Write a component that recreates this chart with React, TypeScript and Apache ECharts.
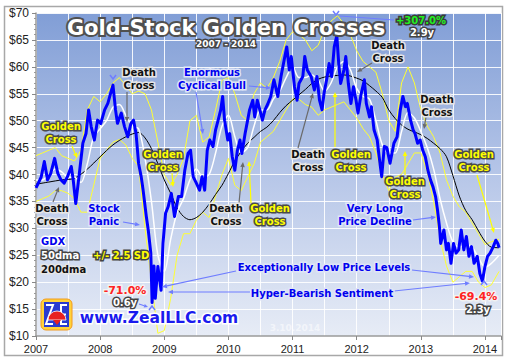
import React, { useEffect, useRef } from "react";
import * as echarts from "echarts";

// ---- GDX daily close ----
const gdx2007: [number, number][] = [
  [2007.0, 37.5], [2007.04, 38.5], [2007.08, 39.5], [2007.13, 42.4], [2007.18, 39.0], [2007.23, 40.2],
  [2007.29, 43.0], [2007.34, 40.2], [2007.39, 39.0], [2007.44, 38.4], [2007.49, 39.6], [2007.55, 41.5],
  [2007.58, 39.0], [2007.62, 34.6], [2007.67, 39.6], [2007.73, 45.8], [2007.78, 47.6], [2007.82, 52.0],
  [2007.86, 48.9], [2007.91, 46.4], [2007.96, 50.1],
];
const gdx2008: [number, number][] = [
  [2008.01, 49.5], [2008.07, 52.0], [2008.12, 53.2], [2008.15, 54.5], [2008.2, 56.6], [2008.24, 52.0],
  [2008.27, 49.5], [2008.33, 51.4], [2008.38, 48.9], [2008.43, 47.0], [2008.48, 49.5], [2008.52, 50.1],
  [2008.56, 47.6], [2008.6, 42.0], [2008.64, 39.6], [2008.67, 37.1], [2008.72, 32.2], [2008.75, 29.7],
  [2008.79, 25.4], [2008.81, 16.2], [2008.84, 23.0], [2008.86, 17.0], [2008.9, 22.9], [2008.95, 18.5],
  [2008.98, 27.2],
];
const gdx2009: [number, number][] = [
  [2009.02, 32.8], [2009.06, 34.0], [2009.11, 36.5], [2009.16, 32.2], [2009.22, 35.9], [2009.27, 35.9],
  [2009.32, 40.8], [2009.37, 43.9], [2009.41, 44.5], [2009.45, 39.6], [2009.5, 38.4], [2009.55, 37.1],
  [2009.59, 39.6], [2009.63, 37.1], [2009.67, 44.5], [2009.71, 46.4], [2009.76, 45.2], [2009.8, 48.3],
  [2009.84, 50.1], [2009.88, 52.0], [2009.91, 54.5], [2009.94, 50.1], [2009.99, 46.4],
];
const gdx2010: [number, number][] = [
  [2010.02, 47.6], [2010.06, 43.3], [2010.1, 40.8], [2010.14, 44.5], [2010.18, 46.4], [2010.21, 43.9],
  [2010.26, 47.6], [2010.3, 50.1], [2010.33, 52.0], [2010.38, 53.8], [2010.41, 50.7], [2010.45, 53.8],
  [2010.49, 52.0], [2010.53, 50.1], [2010.57, 52.0], [2010.61, 53.0], [2010.66, 54.5], [2010.71, 57.6],
  [2010.77, 54.5], [2010.82, 58.2], [2010.87, 61.3], [2010.91, 63.7], [2010.95, 59.4], [2010.98, 61.9],
];
const gdx2011: [number, number][] = [
  [2011.03, 56.3], [2011.07, 53.8], [2011.1, 56.9], [2011.16, 58.2], [2011.19, 61.9], [2011.23, 59.4],
  [2011.29, 58.2], [2011.34, 55.7], [2011.38, 58.2], [2011.42, 53.8], [2011.46, 52.0], [2011.49, 55.0],
  [2011.54, 58.2], [2011.57, 60.6], [2011.61, 58.2], [2011.65, 63.7], [2011.69, 65.8], [2011.72, 60.6],
  [2011.75, 56.9], [2011.8, 59.4], [2011.83, 61.9], [2011.87, 56.9], [2011.91, 53.2], [2011.95, 56.3],
  [2011.99, 53.8],
];
const gdx2012: [number, number][] = [
  [2012.02, 51.4], [2012.07, 55.0], [2012.12, 57.6], [2012.15, 53.2], [2012.2, 50.7], [2012.23, 52.6],
  [2012.27, 48.3], [2012.32, 46.4], [2012.35, 43.3], [2012.39, 39.6], [2012.43, 45.2], [2012.47, 45.0],
  [2012.52, 42.1], [2012.58, 45.8], [2012.63, 47.0], [2012.68, 52.0], [2012.72, 54.5], [2012.76, 52.6],
  [2012.79, 53.2], [2012.84, 50.1], [2012.88, 48.3], [2012.91, 47.6], [2012.95, 45.8], [2012.99, 46.4],
];
const gdx2013: [number, number][] = [
  [2013.03, 44.5], [2013.07, 43.3], [2013.11, 40.8], [2013.15, 39.0], [2013.19, 37.7], [2013.23, 35.9],
  [2013.26, 33.4], [2013.29, 30.3], [2013.31, 27.2], [2013.36, 29.7], [2013.4, 26.0], [2013.43, 27.2],
  [2013.47, 23.5], [2013.51, 27.2], [2013.55, 25.4], [2013.59, 26.0], [2013.63, 29.7], [2013.67, 26.0],
  [2013.71, 28.5], [2013.75, 24.8], [2013.79, 26.6], [2013.83, 23.5], [2013.88, 24.8], [2013.92, 21.6],
  [2013.96, 20.2],
];
const gdx2014: [number, number][] = [
  [2014.0, 22.9], [2014.04, 24.8], [2014.08, 25.4], [2014.13, 26.6], [2014.17, 27.8], [2014.2, 27.2], [2014.22, 26.4],
];

// ---- 50-day moving average ----
const dma50: [number, number][] = [
  [2007.0, 39.0], [2007.1, 39.0], [2007.2, 40.0], [2007.3, 41.0], [2007.4, 40.5], [2007.5, 39.5], [2007.6, 39.5],
  [2007.7, 38.5], [2007.8, 42.0], [2007.9, 47.0], [2008.0, 48.5], [2008.1, 50.0], [2008.2, 52.5], [2008.3, 53.0],
  [2008.4, 51.0], [2008.5, 49.0], [2008.6, 48.5], [2008.7, 43.0], [2008.8, 35.0], [2008.9, 25.0], [2009.0, 22.0],
  [2009.1, 28.0], [2009.2, 33.0], [2009.3, 35.5], [2009.4, 39.0], [2009.5, 41.0], [2009.6, 39.5], [2009.7, 40.0],
  [2009.8, 44.0], [2009.9, 49.0], [2010.0, 51.0], [2010.1, 47.0], [2010.2, 44.0], [2010.3, 45.0], [2010.4, 49.0],
  [2010.5, 52.0], [2010.6, 52.0], [2010.7, 54.0], [2010.8, 55.5], [2010.9, 58.0], [2011.0, 60.0], [2011.1, 58.0],
  [2011.2, 58.0], [2011.3, 58.5], [2011.4, 57.5], [2011.5, 55.5], [2011.6, 57.0], [2011.7, 60.0], [2011.8, 61.0],
  [2011.9, 59.5], [2012.0, 56.0], [2012.1, 54.5], [2012.2, 54.0], [2012.3, 50.0], [2012.4, 45.5], [2012.5, 44.0],
  [2012.6, 44.0], [2012.7, 48.0], [2012.8, 51.5], [2012.9, 50.5], [2013.0, 48.0], [2013.1, 45.0], [2013.2, 41.0],
  [2013.3, 35.5], [2013.4, 31.0], [2013.5, 27.5], [2013.6, 26.5], [2013.7, 27.0], [2013.8, 26.5], [2013.9, 24.5],
  [2014.0, 22.8], [2014.1, 23.5], [2014.22, 25.0],
];

// ---- 200-day moving average ----
const dma200: [number, number][] = [
  [2007.0, 38.2], [2007.2, 38.6], [2007.4, 39.0], [2007.6, 39.3], [2007.8, 41.0], [2008.0, 43.3], [2008.2, 45.5],
  [2008.4, 47.0], [2008.6, 47.8], [2008.7, 46.8], [2008.8, 44.8], [2008.9, 42.0], [2009.0, 39.0], [2009.1, 36.5],
  [2009.2, 33.8], [2009.3, 32.2], [2009.4, 31.6], [2009.5, 32.0], [2009.6, 33.0], [2009.7, 34.5], [2009.8, 36.3],
  [2009.9, 38.0], [2010.0, 40.2], [2010.1, 42.5], [2010.2, 44.3], [2010.3, 45.8], [2010.4, 46.9], [2010.5, 48.0],
  [2010.6, 48.8], [2010.7, 50.0], [2010.8, 51.5], [2010.9, 52.8], [2011.0, 53.8], [2011.1, 54.8], [2011.2, 55.8],
  [2011.3, 56.9], [2011.4, 57.7], [2011.5, 58.1], [2011.6, 58.3], [2011.7, 58.4], [2011.8, 58.5], [2011.9, 58.3],
  [2012.0, 57.9], [2012.1, 57.4], [2012.2, 56.5], [2012.3, 55.5], [2012.4, 54.3], [2012.5, 52.0], [2012.6, 50.4],
  [2012.7, 49.2], [2012.8, 48.4], [2012.9, 47.9], [2013.0, 47.4], [2013.1, 46.7], [2013.2, 45.8], [2013.3, 44.8],
  [2013.4, 43.3], [2013.5, 39.8], [2013.6, 36.0], [2013.7, 33.3], [2013.8, 31.6], [2013.9, 29.5], [2014.0, 27.6],
  [2014.1, 26.5], [2014.22, 26.4],
];

// ---- 50dma +/- 2.5 SD bands ----
const bandUpper: [number, number][] = [
  [2007.0, 43.5], [2007.1, 44.0], [2007.2, 44.5], [2007.3, 45.0], [2007.4, 43.5], [2007.5, 43.0], [2007.6, 42.5],
  [2007.7, 44.5], [2007.8, 52.0], [2007.9, 54.5], [2008.0, 53.5], [2008.1, 55.0], [2008.2, 57.0], [2008.3, 58.0],
  [2008.4, 56.5], [2008.5, 55.0], [2008.6, 55.5], [2008.7, 55.0], [2008.8, 52.0], [2008.9, 46.0], [2009.0, 40.0],
  [2009.1, 38.0], [2009.2, 40.0], [2009.3, 43.0], [2009.4, 50.0], [2009.5, 51.0], [2009.6, 46.0], [2009.7, 47.0],
  [2009.8, 52.0], [2009.9, 57.5], [2010.0, 58.0], [2010.1, 55.0], [2010.2, 51.0], [2010.3, 50.0], [2010.4, 55.0],
  [2010.5, 57.0], [2010.6, 56.0], [2010.7, 58.0], [2010.8, 61.0], [2010.9, 65.0], [2011.0, 66.5], [2011.1, 66.0],
  [2011.2, 65.0], [2011.3, 63.0], [2011.4, 64.0], [2011.5, 67.0], [2011.6, 68.5], [2011.7, 69.5], [2011.8, 68.0],
  [2011.9, 66.0], [2012.0, 63.0], [2012.1, 61.0], [2012.2, 60.0], [2012.3, 59.0], [2012.4, 55.0], [2012.5, 50.0],
  [2012.6, 48.0], [2012.7, 57.0], [2012.8, 60.0], [2012.9, 57.0], [2013.0, 52.0], [2013.1, 49.0], [2013.2, 47.0],
  [2013.3, 44.0], [2013.4, 39.0], [2013.5, 36.0], [2013.6, 34.0], [2013.7, 33.0], [2013.8, 31.0], [2013.9, 29.0],
  [2014.0, 27.0], [2014.1, 27.5], [2014.22, 28.0],
];
const bandLower: [number, number][] = [
  [2007.0, 35.0], [2007.1, 35.5], [2007.2, 36.0], [2007.3, 37.0], [2007.4, 37.0], [2007.5, 36.5], [2007.6, 35.5],
  [2007.7, 33.0], [2007.8, 33.0], [2007.9, 38.0], [2008.0, 43.0], [2008.1, 44.5], [2008.2, 46.0], [2008.3, 46.5],
  [2008.4, 45.5], [2008.5, 43.0], [2008.6, 41.5], [2008.7, 30.0], [2008.8, 20.0], [2008.9, 10.5], [2009.0, 11.0],
  [2009.1, 17.0], [2009.2, 25.0], [2009.3, 29.0], [2009.4, 29.0], [2009.5, 31.5], [2009.6, 33.0], [2009.7, 32.0],
  [2009.8, 36.0], [2009.9, 40.0], [2010.0, 43.0], [2010.1, 38.0], [2010.2, 37.0], [2010.3, 39.5], [2010.4, 42.0],
  [2010.5, 46.0], [2010.6, 47.0], [2010.7, 48.0], [2010.8, 50.0], [2010.9, 52.0], [2011.0, 54.0], [2011.1, 54.0],
  [2011.2, 53.0], [2011.3, 52.5], [2011.4, 51.0], [2011.5, 52.0], [2011.6, 52.5], [2011.7, 53.0], [2011.8, 53.5],
  [2011.9, 52.0], [2012.0, 50.5], [2012.1, 48.5], [2012.2, 47.0], [2012.3, 44.0], [2012.4, 40.0], [2012.5, 37.0],
  [2012.6, 39.5], [2012.7, 40.0], [2012.8, 42.0], [2012.9, 44.0], [2013.0, 44.0], [2013.1, 40.5], [2013.2, 35.0],
  [2013.3, 28.0], [2013.4, 23.0], [2013.5, 20.0], [2013.6, 21.0], [2013.7, 22.0], [2013.8, 22.0], [2013.9, 20.0],
  [2014.0, 19.0], [2014.1, 19.5], [2014.22, 22.0],
];

const yearTicks = [2007, 2008, 2009, 2010, 2011, 2012, 2013, 2014];

const gdx = [...gdx2007, ...gdx2008, ...gdx2009, ...gdx2010, ...gdx2011, ...gdx2012, ...gdx2013, ...gdx2014];

const F = '"DejaVu Sans", Verdana, sans-serif';

function txt(text: string, x: number, y: number, fill: string, stroke: string, size = 10, align = "center", lw = 3) {
  return {
    type: "text",
    x,
    y,
    z: 100,
    style: {
      text,
      fill,
      stroke,
      lineWidth: lw,
      strokeFirst: true,
      font: `bold ${size}px ${F}`,
      align,
      verticalAlign: "middle",
      textAlign: align,
      textVerticalAlign: "middle",
      lineHeight: Math.round(size * 1.25),
    },
  };
}

function arrow(x1: number, y1: number, x2: number, y2: number, color: string, w = 1.2, head = 5) {
  const a = Math.atan2(y2 - y1, x2 - x1);
  const bx = x2 - head * Math.cos(a);
  const by = y2 - head * Math.sin(a);
  const px = Math.sin(a) * head * 0.45;
  const py = -Math.cos(a) * head * 0.45;
  return {
    type: "group",
    z: 90,
    children: [
      { type: "line", z: 90, shape: { x1, y1, x2: bx, y2: by }, style: { stroke: color, lineWidth: w } },
      {
        type: "polygon",
        z: 90,
        shape: { points: [[x2, y2], [bx + px, by + py], [bx - px, by - py]] },
        style: { fill: color },
      },
    ],
  };
}

function chevron(x: number, y: number, up: boolean, color: string) {
  const d = up ? -1 : 1;
  return {
    type: "polyline",
    z: 95,
    shape: { points: [[x - 3, y - 3 * d], [x, y + 1 * d], [x + 3, y - 3 * d]] },
    style: { stroke: color, lineWidth: 1.5, fill: null },
  };
}

const BLUE_ARROW = "#6f7dff";
const GREY = "#6a6a6a";
const YEL = "#ffff00";

export default function App() {
  const ref = useRef<HTMLDivElement>(null);
  useEffect(() => {
    if (!ref.current) return;
    const chart = echarts.init(ref.current, undefined, { renderer: "svg" });
    const blackLbl = (t: string, x: number, y: number) => txt(t, x, y, "#111111", "#e6e6e6");
    const yelLbl = (t: string, x: number, y: number) => txt(t, x, y, "#ffff00", "#4a4a4a");
    const blueLbl = (t: string, x: number, y: number) => txt(t, x, y, "#0000ee", "#dfe5f7");

    const graphics: any[] = [
      { type: "rect", z: -10, shape: { x: 4.5, y: 6.5, width: 498, height: 349 }, style: { fill: null, stroke: "#a8a8a8", lineWidth: 1.5 } },
      txt("Gold-Stock Golden Crosses", 226, 28, "#ffffff", "#505050", 21, "center", 4),
      txt("2007 - 2014", 226, 44, "#ffffff", "#444444", 9, "center", 3),
      // peaks / troughs
      chevron(113, 78, false, BLUE_ARROW),
      chevron(336, 14, false, BLUE_ARROW),
      { type: "line", z: 90, shape: { x1: 340, y1: 16, x2: 394, y2: 20 }, style: { stroke: BLUE_ARROW, lineWidth: 1.2 } },
      txt("+307.0%", 421, 20, "#22ee22", "#3a3a3a", 10),
      txt("2.9y", 422, 32, "#ffffff", "#444444", 10),
      chevron(152, 307, true, BLUE_ARROW),
      arrow(139, 304, 148, 307, BLUE_ARROW, 1.2, 4),
      txt("-71.0%", 125, 290, "#ff2222", "#f2f2f2", 11),
      txt("0.6y", 125, 302, "#ffffff", "#444444", 10),
      chevron(484, 282, true, BLUE_ARROW),
      txt("-69.4%", 476, 296, "#ff2222", "#f2f2f2", 11),
      txt("2.3y", 478, 309, "#ffffff", "#444444", 10),
      // cross labels
      blackLbl("Death\nCross", 139, 79), arrow(127, 92, 127, 122, GREY),
      blueLbl("Enormous\nCyclical Bull", 212, 79),
      arrow(196, 92, 203, 134, BLUE_ARROW), arrow(249, 86, 271, 88, BLUE_ARROW),
      yelLbl("Golden\nCross", 61, 133), arrow(72, 146, 77, 158, YEL),
      blackLbl("Death\nCross", 52, 215), arrow(53, 202, 59, 187, GREY),
      yelLbl("Golden\nCross", 163, 161), arrow(172, 173, 173, 187, YEL),
      blueLbl("Stock\nPanic", 104, 215), arrow(123, 222, 140, 225, BLUE_ARROW),
      blackLbl("Death\nCross", 226, 215), arrow(239, 203, 243, 162, GREY),
      yelLbl("Golden\nCross", 270, 215), arrow(251, 203, 249, 161, YEL),
      blackLbl("Death\nCross", 308, 161), arrow(298, 148, 313, 93, GREY),
      yelLbl("Golden\nCross", 351, 161), arrow(335, 147, 335, 92, YEL),
      blackLbl("Death\nCross", 388, 52), arrow(372, 63, 357, 72, GREY),
      blackLbl("Death\nCross", 437, 106), arrow(426, 117, 424, 129, GREY),
      yelLbl("Golden\nCross", 405, 188), arrow(405, 175, 405, 151, YEL),
      yelLbl("Golden\nCross", 474, 161), arrow(477, 175, 494, 233, YEL),
      blueLbl("Very Long\nPrice Decline", 375, 215), arrow(413, 220, 436, 217, BLUE_ARROW),
      // legend
      txt("GDX", 41, 241, "#0000ee", "#ffffff", 10, "left"),
      txt("50dma", 41, 255, "#ffffff", "#444444", 10, "left"),
      txt("+/- 2.5 SD", 93, 255, "#ffff00", "#444444", 10, "left"),
      txt("200dma", 41, 269, "#111111", "#e6e6e6", 10, "left"),
      // sentiment
      blueLbl("Exceptionally Low Price Levels", 324, 267),
      arrow(236, 271, 162, 287, BLUE_ARROW), arrow(412, 270, 474, 277, BLUE_ARROW),
      blueLbl("Hyper-Bearish Sentiment", 322, 293),
      arrow(250, 292, 168, 292, BLUE_ARROW), arrow(394, 291, 470, 283, BLUE_ARROW),
      // logo
      {
        type: "group",
        z: 100,
        children: [
          { type: "rect", z: 100, shape: { x: 41, y: 299, width: 31, height: 31, r: 5 }, style: { fill: "#ffd23a", stroke: "#f29a1e", lineWidth: 1 } },
          { type: "rect", z: 101, shape: { x: 44, y: 302, width: 25, height: 25 }, style: { fill: "#2a3bd0" } },
          { type: "polyline", z: 102, shape: { points: [[46, 305], [53, 305], [46, 324], [53, 324]] }, style: { stroke: "#ffffff", lineWidth: 2, fill: null } },
          { type: "polyline", z: 102, shape: { points: [[67, 305], [61, 305], [61, 324], [67, 324]] }, style: { stroke: "#ffffff", lineWidth: 2, fill: null } },
          { type: "line", z: 102, shape: { x1: 61, y1: 314.5, x2: 66, y2: 314.5 }, style: { stroke: "#ffffff", lineWidth: 2 } },
          { type: "sector", z: 103, shape: { cx: 57, cy: 320, r: 9, r0: 0, startAngle: Math.PI, endAngle: Math.PI * 2 }, style: { fill: "#e82020", stroke: "#ffffff", lineWidth: 0.8 } },
          { type: "polygon", z: 103, shape: { points: [[53, 320], [61, 320], [57, 325]] }, style: { fill: "#e82020" } },
        ],
      },
      txt("www.ZealLLC.com", 159, 318, "#1a1aee", "#ffffff", 15.5, "center", 3),
      txt("3.10.2014", 295, 328, "rgba(255,255,255,0.55)", "rgba(255,255,255,0)", 9, "center", 0),
    ];

    chart.setOption({
      animation: false,
      grid: {
        left: 36,
        top: 13,
        width: 465,
        height: 323,
        show: true,
        borderWidth: 0,
        backgroundColor: new echarts.graphic.LinearGradient(0, 0, 0, 1, [
          { offset: 0, color: "#819ed6" },
          { offset: 0.5, color: "#b6c6e8" },
          { offset: 1, color: "#e7ecf6" },
        ]),
      },
      xAxis: [
        {
          type: "value",
          min: 2007,
          max: 2014.25,
          interval: 0.5,
          position: "top",
          axisLine: { show: false },
          axisTick: { show: false },
          axisLabel: { show: false },
          splitLine: { show: true, lineStyle: { color: "#ffffff", width: 1, opacity: 0.9 } },
        },
        {
          type: "value",
          min: 2007,
          max: 2014.25,
          interval: 1,
          position: "bottom",
          axisLine: { show: true, onZero: false, lineStyle: { color: "#9a9a9a", width: 1.5 } },
          axisTick: { show: true, length: 4, lineStyle: { color: "#888" } },
          axisLabel: {
            formatter: (v: number) => (yearTicks.indexOf(v) >= 0 ? String(v) : ""),
            color: "#222",
            fontSize: 11,
            fontFamily: "Liberation Sans, Arial, sans-serif",
            margin: 7,
          },
          splitLine: { show: false },
        },
      ],
      yAxis: {
        type: "value",
        min: 10,
        max: 70,
        interval: 5,
        axisLine: { show: true, lineStyle: { color: "#9a9a9a", width: 1.5 } },
        axisTick: { show: true, length: 4, lineStyle: { color: "#888" } },
        minorTick: { show: true, splitNumber: 5, length: 2, lineStyle: { color: "#999" } },
        axisLabel: { formatter: "${value}", color: "#222", fontSize: 12, fontFamily: "Liberation Sans, Arial, sans-serif", margin: 7 },
        splitLine: { show: true, lineStyle: { color: "#ffffff", width: 1, opacity: 0.9 } },
      },
      series: [
        { type: "line", name: "+2.5 SD", xAxisIndex: 0, data: bandUpper, symbol: "none", z: 1, lineStyle: { color: "#ffff33", width: 1 } },
        { type: "line", name: "-2.5 SD", xAxisIndex: 0, data: bandLower, symbol: "none", z: 1, lineStyle: { color: "#ffff33", width: 1 } },
        { type: "line", name: "200dma", xAxisIndex: 0, data: dma200, symbol: "none", z: 2, smooth: 0.3, lineStyle: { color: "#000000", width: 1 } },
        { type: "line", name: "50dma", xAxisIndex: 0, data: dma50, symbol: "none", z: 3, smooth: 0.3, lineStyle: { color: "#ffffff", width: 1.5 } },
        { type: "line", name: "GDX", xAxisIndex: 0, data: gdx, symbol: "none", z: 4, lineStyle: { color: "#0000ff", width: 3, join: "round" } },
      ],
      graphic: graphics,
    });
    return () => chart.dispose();
  }, []);
  return <div ref={ref} style={{ position: "absolute", left: 0, top: 0, width: 508, height: 362, background: "#fff" }} />;
}
